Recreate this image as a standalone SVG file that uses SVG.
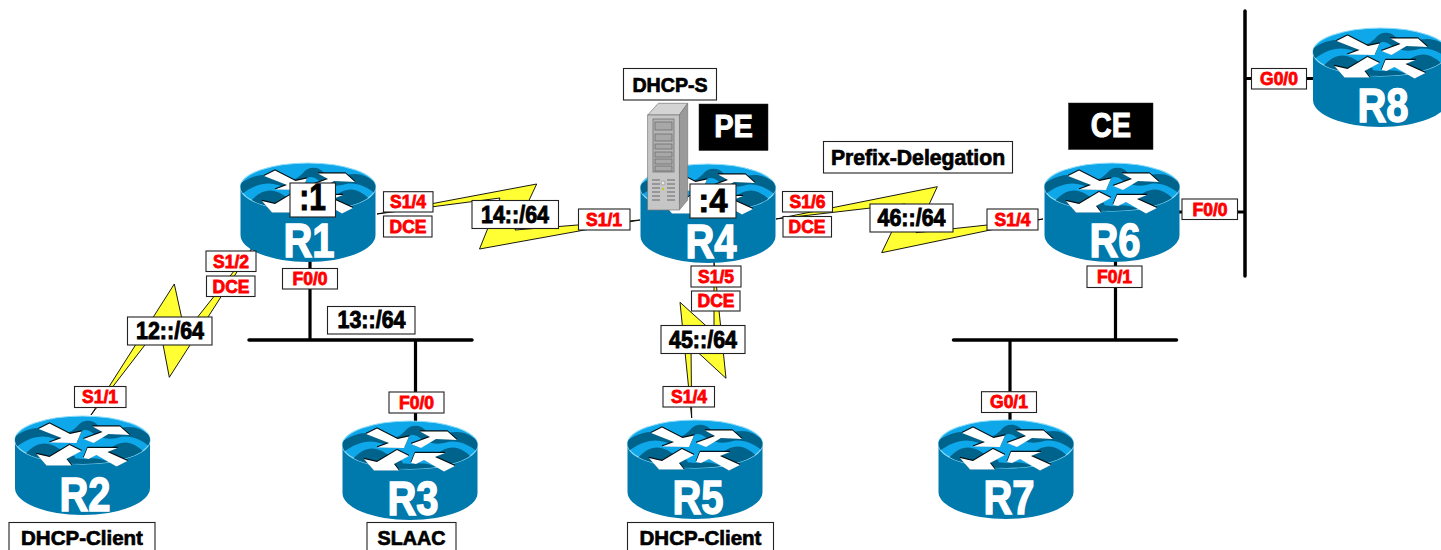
<svg xmlns="http://www.w3.org/2000/svg" width="1441" height="550" viewBox="0 0 1441 550">
<style>
text{font-family:"Liberation Sans",Arial,sans-serif;font-weight:bold;text-anchor:middle}
.box{fill:#fff;stroke:#222;stroke-width:1.1}
.if{fill:#f00;stroke:#f00;stroke-width:.8;font-size:17.5px}
.net{fill:#000;stroke:#000;stroke-width:.8;font-size:21.5px}
.note{fill:#000;stroke:#000;stroke-width:.7;font-size:20.5px}
.blk{fill:#000;stroke:#222;stroke-width:.5}
.tag{fill:#fff;stroke:#fff;stroke-width:.9;font-size:29px}
.name{fill:#fff;stroke:#fff;stroke-width:1.2;font-size:40px}
.bolt{fill:#ffff33;stroke:#000;stroke-width:.9;stroke-linejoin:miter}
.bus{stroke:#000;stroke-width:3.5;stroke-linecap:round;fill:none}
.link{stroke:#000;stroke-width:3.2;fill:none}
.sv{fill:#a8a8a8;stroke:#666;stroke-width:.7}
</style>
<defs>
<clipPath id="lid"><ellipse cx="0" cy="0" rx="67.5" ry="24"/></clipPath>
<g id="arrows">
<path d="M-44,-11 L-33,-16.500 L-12.500,-6 L-1,-8.500 L-6,3 L-33,2.500 L-21,-2 Z"/>
<path d="M1,-1 L20,-8 L10,-13.500 L37.500,-13.500 L47,-5 L26,-6 L11,3 Z"/>
<path d="M-1,11 L-16,19 L-11,25.500 L-36,25.500 L-46,14 L-33,17 L-13,5 Z"/>
<path d="M1,18 L5,8 L35,8 L25,12 L45,21 L34,26.500 L14,15 L6,19 Z"/>
</g>
<symbol id="router" overflow="visible">
<path d="M-67.5,0 V48 A67.5,27 0 0 0 67.5,48 V0 Z" fill="#0079ad"/>
<ellipse cx="0" cy="0" rx="67.5" ry="24" fill="#0ea8ea" stroke="#8fdcf8" stroke-width="1.2"/>
<g clip-path="url(#lid)" fill="#00638c">
<path d="M-70,-2 C-55,-13 -40,-15 -26,-9 C-16,-5 -11,-8 -5,-14 C0,-21 11,-21 16,-14 C23,-8 29,-8 38,-12 C50,-15 60,-12 70,-2 L70,9 C59,-1 48,-5 38,-3 C28,0 18,-1 10,-7 C5,-11 0,-11 -5,-6 C-12,1 -22,1 -30,-2 C-42,-6 -56,-2 -70,10 Z"/>
<path d="M-58,15 C-48,3 -38,1 -28,6 C-21,10 -16,14 -8,16 L-6,24 L-44,24 Z"/>
<path d="M-24,22 C-14,17 -8,18 0,19 C8,18 16,17 26,22 L20,27 L-18,27 Z"/>
<path d="M22,14 C32,2 44,0 52,5 C58,8 62,12 64,16 L50,24 L28,20 Z"/>
</g>
<use href="#arrows" fill="#000" stroke="#000" stroke-width=".7" transform="translate(0,-.8)"/>
<use href="#arrows" fill="#fff"/>
</symbol>
</defs>

<g id="connectors">
<path class="bus" d="M249,340 H472"/>
<path class="bus" d="M953.500,340 H1176.500"/>
<path class="bus" d="M1245,11 V276"/>
<path class="link" d="M310,255 V340"/>
<path class="link" d="M415.500,340 V422"/>
<path class="link" d="M1115.500,260 V340"/>
<path class="link" d="M1010,340 V422"/>
<path class="link" d="M1175,212 H1245"/>
<path class="link" d="M1245,78.500 H1316"/>
<path class="bolt" d="M253,247 L185,333 L174.300,284 L91,415 L159.500,326 L169.300,377.300 Z"/>
<path class="bolt" d="M377,214 L536.700,184 L515,230 L640,220 L479.500,249 L500,198 Z"/>
<path class="bolt" d="M776,219 L937.300,186.700 L916,232.700 L1043,219 L881.700,252.700 L905,204 Z"/>
<path class="bolt" d="M714,262 L726,378.300 L691,346 L691.700,418 L680,302.300 L714,333 Z"/>
</g>

<g id="R1"><use href="#router" x="308" y="187"/><text class="name" transform="translate(309,257) scale(1,1.2)">R1</text></g>
<g id="R2"><use href="#router" x="82.500" y="440"/><text class="name" transform="translate(85,510.500) scale(1,1.2)">R2</text></g>
<g id="R3"><use href="#router" x="410" y="445"/><text class="name" transform="translate(413,515) scale(1,1.2)">R3</text></g>
<g id="R4"><use href="#router" x="708" y="188"/><text class="name" transform="translate(711,258) scale(1,1.2)">R4</text></g>
<g id="R5"><use href="#router" x="695" y="444"/><text class="name" transform="translate(698,514) scale(1,1.2)">R5</text></g>
<g id="R6"><use href="#router" x="1112" y="187"/><text class="name" transform="translate(1115,257) scale(1,1.2)">R6</text></g>
<g id="R7"><use href="#router" x="1006" y="444"/><text class="name" transform="translate(1009,514) scale(1,1.2)">R7</text></g>
<g id="R8"><use href="#router" x="1380.500" y="52"/><text class="name" transform="translate(1383,122) scale(1,1.2)">R8</text></g>

<g id="server">
<path d="M647.700,115 L658.300,103.300 H687.700 L679.300,115 Z" fill="#d4d4d4" stroke="#777" stroke-width=".7"/>
<path d="M679.300,115 L687.700,103.300 V200 L679.300,210 Z" fill="#9a9a9a" stroke="#777" stroke-width=".7"/>
<rect x="647.700" y="115" width="31.600" height="95" fill="#c6c6c6" stroke="#777" stroke-width=".7"/>
<rect x="653" y="119" width="21" height="53" fill="#b4b4b4" stroke="#666" stroke-width=".7"/>
<rect class="sv" x="655" y="122" width="17" height="8"/>
<rect class="sv" x="655" y="134" width="17" height="7"/>
<rect class="sv" x="655" y="144" width="17" height="5"/>
<rect class="sv" x="655" y="152" width="17" height="5"/>
<rect class="sv" x="655" y="159" width="17" height="5"/>
<rect class="sv" x="655" y="166" width="17" height="5"/>
<path d="M652,180 H660 M652,184 H660 M652,188 H660 M652,192 H660 M652,196 H660 M652,200 H660 M667,180 H675 M667,184 H675 M667,188 H675 M667,192 H675 M667,196 H675 M667,200 H675" stroke="#666" stroke-width="1.200"/>
<circle cx="663" cy="183" r="2" fill="#e8e8e8" stroke="#777" stroke-width=".5"/>
<circle cx="663" cy="189" r="1.200" fill="#c8c820"/>
</g>

<g id="labels">
<rect class="box" x="290" y="183" width="45.500" height="34"/><text class="net" style="font-size:30px" transform="translate(312.500,210) scale(1,1.2)">:1</text>
<rect class="box" x="690" y="184" width="46" height="34"/><text class="net" style="font-size:33px" x="713" y="212">:4</text>

<rect class="box" x="383.500" y="191.700" width="49.500" height="20.300"/><text class="if" x="408" y="208">S1/4</text>
<rect class="box" x="383.500" y="216" width="48.500" height="21"/><text class="if" x="408" y="232.500">DCE</text>
<rect class="box" x="206" y="251" width="50" height="20.500"/><text class="if" x="231" y="267.500">S1/2</text>
<rect class="box" x="206.500" y="276" width="48.500" height="20.500"/><text class="if" x="231" y="292.500">DCE</text>
<rect class="box" x="282.500" y="268.500" width="55" height="20.500"/><text class="if" x="310" y="284.500">F0/0</text>
<rect class="box" x="74.500" y="386.500" width="51.500" height="21"/><text class="if" x="100" y="403">S1/1</text>
<rect class="box" x="389" y="392" width="55" height="21"/><text class="if" x="416.500" y="408.500">F0/0</text>
<rect class="box" x="578.500" y="209" width="51.500" height="21"/><text class="if" x="604" y="225.500">S1/1</text>
<rect class="box" x="782.500" y="191.500" width="50" height="20.500"/><text class="if" x="807.500" y="208">S1/6</text>
<rect class="box" x="783" y="216.500" width="48.500" height="20.500"/><text class="if" x="807" y="232.500">DCE</text>
<rect class="box" x="691" y="266" width="50" height="21"/><text class="if" x="716" y="282.500">S1/5</text>
<rect class="box" x="691.500" y="291" width="48.500" height="20"/><text class="if" x="716" y="307">DCE</text>
<rect class="box" x="663" y="386.500" width="51.500" height="20.500"/><text class="if" x="689" y="403">S1/4</text>
<rect class="box" x="987" y="209" width="51" height="21"/><text class="if" x="1012.500" y="225.500">S1/4</text>
<rect class="box" x="1182" y="199" width="55.500" height="20.500"/><text class="if" x="1210" y="215.500">F0/0</text>
<rect class="box" x="1087" y="266" width="55" height="21.500"/><text class="if" x="1114.500" y="283">F0/1</text>
<rect class="box" x="981.500" y="391.700" width="55" height="20.800"/><text class="if" x="1009" y="408">G0/1</text>
<rect class="box" x="1251.500" y="68.500" width="55" height="20.500"/><text class="if" x="1279" y="85">G0/0</text>

<rect class="box" x="327.500" y="306.500" width="87.500" height="27.500"/><text class="net" transform="translate(371.500,328) scale(1,1.12)">13::/64</text>
<rect class="box" x="127.500" y="317" width="84.500" height="28"/><text class="net" transform="translate(170,339) scale(1,1.12)">12::/64</text>
<rect class="box" x="472" y="200.500" width="86.500" height="28"/><text class="net" transform="translate(515,222.500) scale(1,1.12)">14::/64</text>
<rect class="box" x="870" y="204" width="83" height="28"/><text class="net" transform="translate(911.500,226) scale(1,1.12)">46::/64</text>
<rect class="box" x="661" y="325.500" width="84" height="28"/><text class="net" transform="translate(703,347.500) scale(1,1.12)">45::/64</text>

<rect class="box" x="9" y="522.500" width="146" height="40"/><text class="note" x="82" y="544.500">DHCP-Client</text>
<rect class="box" x="367" y="522.500" width="89" height="40"/><text class="note" style="font-size:19.700px" x="411.500" y="544.500">SLAAC</text>
<rect class="box" x="627.500" y="522.500" width="146" height="40"/><text class="note" x="700.500" y="544.500">DHCP-Client</text>
<rect class="box" x="623.500" y="68.500" width="93" height="31.500"/><text class="note" style="font-size:19.600px" x="670" y="91.500">DHCP-S</text>
<rect class="box" x="823.500" y="141.500" width="189" height="31.500"/><text class="note" style="font-size:21.200px" x="918" y="164.500">Prefix-Delegation</text>

<rect class="blk" x="699" y="104" width="69" height="46.500"/><text class="tag" transform="translate(733.500,136.700) scale(1,1.08)">PE</text>
<rect class="blk" x="1068.500" y="103" width="84.500" height="46.500"/><text class="tag" transform="translate(1111,136.700) scale(1,1.2)">CE</text>
</g>
</svg>
